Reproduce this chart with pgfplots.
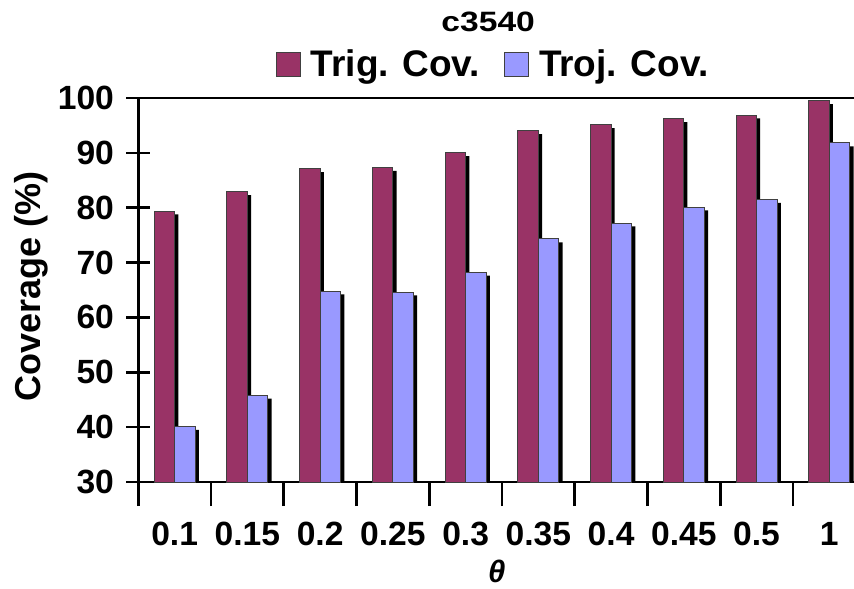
\documentclass[border=0pt]{standalone}
\usepackage{fontspec}
\setmainfont{Liberation Sans}
\newfontfamily\titlefont{Liberation Sans}[FakeStretch=1.2]
\usepackage{pgfplots}
\pgfplotsset{compat=1.18}
\definecolor{trig}{HTML}{993366}
\definecolor{troj}{HTML}{9999FF}
\pgfplotsset{sqlegend/.style={legend image code/.code={\draw[##1] (0pt,-6pt) rectangle (12pt,6pt);}}}
\begin{document}
\begin{tikzpicture}
\begin{axis}[
  at={(69.15pt,53pt)}, anchor=south west,
  scale only axis, width=357.85pt, height=192pt,
  xmin=-0.5, xmax=9.34, ymin=30, ymax=100,
  axis x line*=bottom, axis y line*=left,
  axis line style={line width=1.35pt, -},
  tick align=center, major tick length=12pt,
  every tick/.style={black, line width=1.35pt},
  xtick={-0.5,0.5,...,8.5}, xticklabels={},
  extra x ticks={0,1,2,3,4,5,6,7,8,9},
  extra x tick labels={0.1,0.15,0.2,0.25,0.3,0.35,0.4,0.45,0.5,1},
  extra x tick style={major tick length=0pt, xticklabel style={anchor=center, yshift=-26pt}},
  ytick={30,40,...,100},
  yticklabel style={anchor=east, inner sep=0pt, xshift=-6pt},
  tick label style={font=\fontsize{16.8}{16.8}\selectfont\bfseries},
  /pgf/number format/assume math mode=true,
  extra y ticks={100}, extra y tick labels={},
  extra y tick style={grid=major, major grid style={black, line width=1.35pt}},
  ylabel={Coverage (\%)},
  every axis y label/.style={at={(axis description cs:-0.15,0.509)}, rotate=90, anchor=center, font=\fontsize{18}{18}\selectfont\bfseries},
  xlabel={\itshape\textbf{θ}},
  every axis x label/.style={at={(axis description cs:0.501,-0.233)}, anchor=center, font=\fontsize{15.5}{15.5}\selectfont\bfseries},
  title={c3540},
  every axis title/.style={at={(axis description cs:0.423,1.198)}, anchor=west, inner sep=0pt, font=\titlefont\fontsize{14}{14}\selectfont\bfseries},
  legend columns=2,
  legend style={at={(axis description cs:0.497,1.087)}, anchor=center, draw=none, fill=none,
    font=\fontsize{18.5}{18.5}\selectfont\bfseries,
    /tikz/every odd column/.append style={column sep=3pt},
    /tikz/every even column/.append style={column sep=10pt}},
  ybar, bar width=10.25pt,
  shadowbar/.style={preaction={fill=black, draw=none, transform canvas={xshift=1.85pt, yshift=-1.65pt}}},
]
\addplot[forget plot, bar shift=-5.15pt, fill=trig, draw=black!75, line width=0.5pt, shadowbar]
  coordinates {(0,79.4) (1,82.9) (2,87.1) (3,87.3) (4,90.0) (5,94.0) (6,95.1) (7,96.2) (8,96.9) (9,99.5)};
\addplot[forget plot, bar shift=5.15pt, fill=troj, draw=black!75, line width=0.5pt, shadowbar]
  coordinates {(0,40.1) (1,45.8) (2,64.8) (3,64.6) (4,68.2) (5,74.3) (6,77.2) (7,80.1) (8,81.5) (9,91.8)};
\addlegendimage{sqlegend, fill=trig, draw=black!75, line width=0.5pt}
\addlegendentry{Trig. Cov.}
\addlegendimage{sqlegend, fill=troj, draw=black!75, line width=0.5pt}
\addlegendentry{Troj. Cov.}
\end{axis}
\pgfresetboundingbox
\useasboundingbox (0,0) rectangle (427pt,294pt);
\end{tikzpicture}
\end{document}
